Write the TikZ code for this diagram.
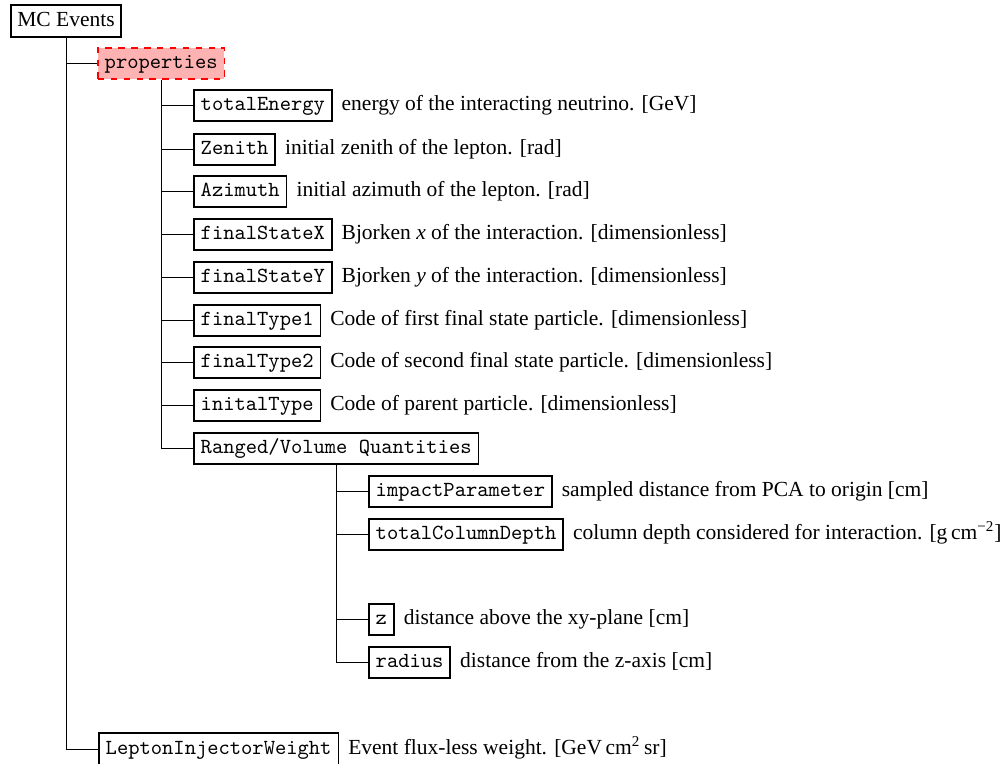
\documentclass[tikz,border=0pt]{standalone}
\usepackage{fontspec}
\setmainfont{Liberation Serif}
\begin{document}
\begin{tikzpicture}[x=0.46512pt,y=-0.46512pt,
  box/.style={draw,line width=0.8pt,anchor=west,inner xsep=3.2pt,inner ysep=2.7pt,text height=7pt,text depth=2.3pt,font=\ttfamily},
  rootbox/.style={box,font=\rmfamily,inner xsep=3pt},
  propbox/.style={box,draw=red,dashed,fill=red!30},
  desc/.style={anchor=base west,inner sep=0pt,xshift=4pt},
  edge/.style={line width=0.45pt}]
\useasboundingbox (0,0) rectangle (1005,764);
\node[rootbox] (mc) at (10,21) {MC Events};
\node[propbox] (prop) at (97,63.5) {properties};
\node[box] (te) at (193,105.5) {totalEnergy};
\node[box] (zen) at (193,149.5) {Zenith};
\node[box] (azi) at (193,191.5) {Azimuth};
\node[box] (fsx) at (193,234.5) {finalStateX};
\node[box] (fsy) at (193,277.5) {finalStateY};
\node[box] (ft1) at (193,320.5) {finalType1};
\node[box] (ft2) at (193,362.5) {finalType2};
\node[box] (it) at (193,405.5) {initalType};
\node[box] (rvq) at (193,448.5) {Ranged/Volume Quantities};
\node[box] (ip) at (368,491.5) {impactParameter};
\node[box] (tcd) at (368,534.5) {totalColumnDepth};
\node[box] (z) at (368,619.5) {z};
\node[box] (rad) at (368,662.5) {radius};
\node[box] (liw) at (98,749) {LeptonInjectorWeight};
\node[desc] (dte) at (te.base east) {energy of the interacting neutrino. [GeV]};
\node[desc] (dzen) at (zen.base east) {initial zenith of the lepton. [rad]};
\node[desc] (dazi) at (azi.base east) {initial azimuth of the lepton. [rad]};
\node[desc] (dfsx) at (fsx.base east) {Bjorken \textit{x} of the interaction. [dimensionless]};
\node[desc] (dfsy) at (fsy.base east) {Bjorken \textit{y} of the interaction. [dimensionless]};
\node[desc] (dft1) at (ft1.base east) {Code of first final state particle. [dimensionless]};
\node[desc] (dft2) at (ft2.base east) {Code of second final state particle. [dimensionless]};
\node[desc] (dit) at (it.base east) {Code of parent particle. [dimensionless]};
\node[desc] (dip) at (ip.base east) {sampled distance from PCA to origin [cm]};
\node[desc] (dtcd) at (tcd.base east) {column depth considered for interaction. [g\,cm\textsuperscript{−2}]};
\node[desc] (dz) at (z.base east) {distance above the xy-plane [cm]};
\node[desc] (drad) at (rad.base east) {distance from the z-axis [cm]};
\node[desc] (dliw) at (liw.base east) {Event flux-less weight. [GeV\,cm\textsuperscript{2}\,sr]};
\foreach \c in {prop,liw} \draw[edge] (mc.south) |- (\c.west);
\foreach \c in {te,zen,azi,fsx,fsy,ft1,ft2,it,rvq} \draw[edge] (prop.south) |- (\c.west);
\foreach \c in {ip,tcd,z,rad} \draw[edge] (rvq.south) |- (\c.west);
\end{tikzpicture}
\end{document}
